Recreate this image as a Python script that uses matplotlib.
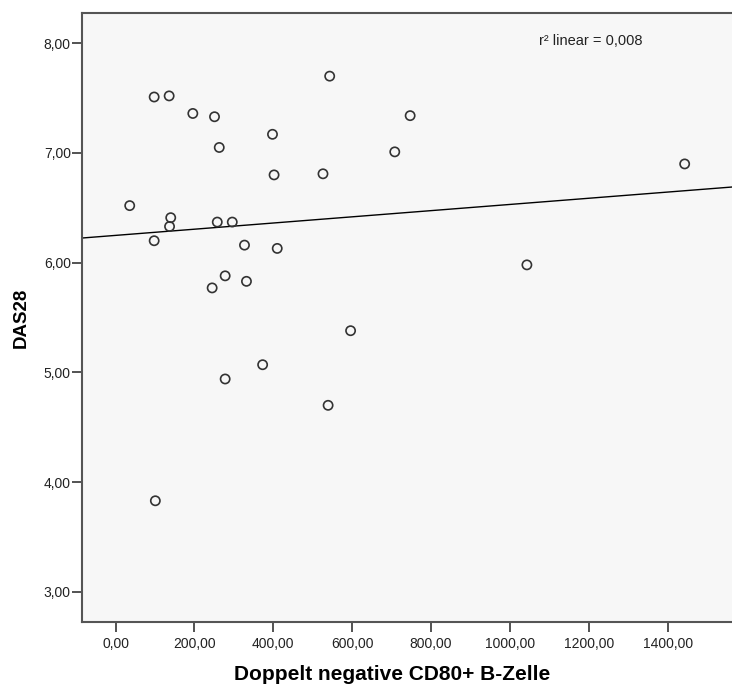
import numpy as np
import matplotlib
matplotlib.use("Agg")
import matplotlib.pyplot as plt
from matplotlib.ticker import FuncFormatter

plt.rcParams["font.family"] = ["Liberation Sans", "DejaVu Sans"]

# Doppelt negative CD80+ B-Zelle vs. DAS28
cd80_neg = [
    98, 136, 196, 251, 398, 263, 402, 36, 140, 137, 258, 296, 98, 327, 410,
    278, 245, 332, 373, 278, 101, 543, 747, 708, 526, 596, 539, 1443, 1043,
]
das28 = [
    7.51, 7.52, 7.36, 7.33, 7.17, 7.05, 6.80, 6.52, 6.41, 6.33, 6.37, 6.37,
    6.20, 6.16, 6.13, 5.88, 5.77, 5.83, 5.07, 4.94, 3.83, 7.70, 7.34, 7.01,
    6.81, 5.38, 4.70, 6.90, 5.98,
]
x_ticks = [0, 200, 400, 600, 800, 1000, 1200, 1400]
y_ticks = [3, 4, 5, 6, 7, 8]

x = np.array(cd80_neg, dtype=float)
y = np.array(das28)
slope, intercept = np.polyfit(x, y, 1)
r2 = np.corrcoef(x, y)[0, 1] ** 2

fig = plt.figure(figsize=(7.32, 6.88), dpi=100)
ax = fig.add_axes([0.112, 0.0959, 0.888, 0.8848])
ax.set_facecolor("#f7f7f7")

xlim = (-85, 1563)
ax.set_xlim(xlim)
ax.set_ylim(2.725, 8.273)

ax.scatter(x, y, s=44, facecolors="none", edgecolors="#333333",
           linewidths=1.2, zorder=3)
xs = np.array(xlim, dtype=float)
ax.plot(xs, intercept + slope * xs, color="black", lw=1.0, zorder=2)

ax.text(0.782, 0.955, f"r² linear = {r2:.3f}".replace(".", ","),
        transform=ax.transAxes, ha="center", va="center", fontsize=10.5,
        color="#222222")

ax.set_xticks(x_ticks)
ax.set_yticks(y_ticks)
fmt = FuncFormatter(lambda v, p: f"{v:.2f}".replace(".", ","))
ax.xaxis.set_major_formatter(fmt)
ax.yaxis.set_major_formatter(fmt)
ax.tick_params(axis="both", length=7, width=1.3, color="#444444",
               labelsize=10, labelcolor="#222222")
ax.tick_params(axis="y", pad=1)
ax.tick_params(axis="x", pad=4)

for side in ["left", "bottom", "top"]:
    ax.spines[side].set_color("#555555")
    ax.spines[side].set_linewidth(1.5)
ax.spines["right"].set_visible(False)

ax.set_xlabel("Doppelt negative CD80+ B-Zelle", fontsize=15,
              fontweight="bold")
ax.xaxis.set_label_coords(0.477, -0.070)
ax.set_ylabel("DAS28", fontsize=13.5, fontweight="bold", labelpad=10)

fig.savefig("out.png", dpi=100)
